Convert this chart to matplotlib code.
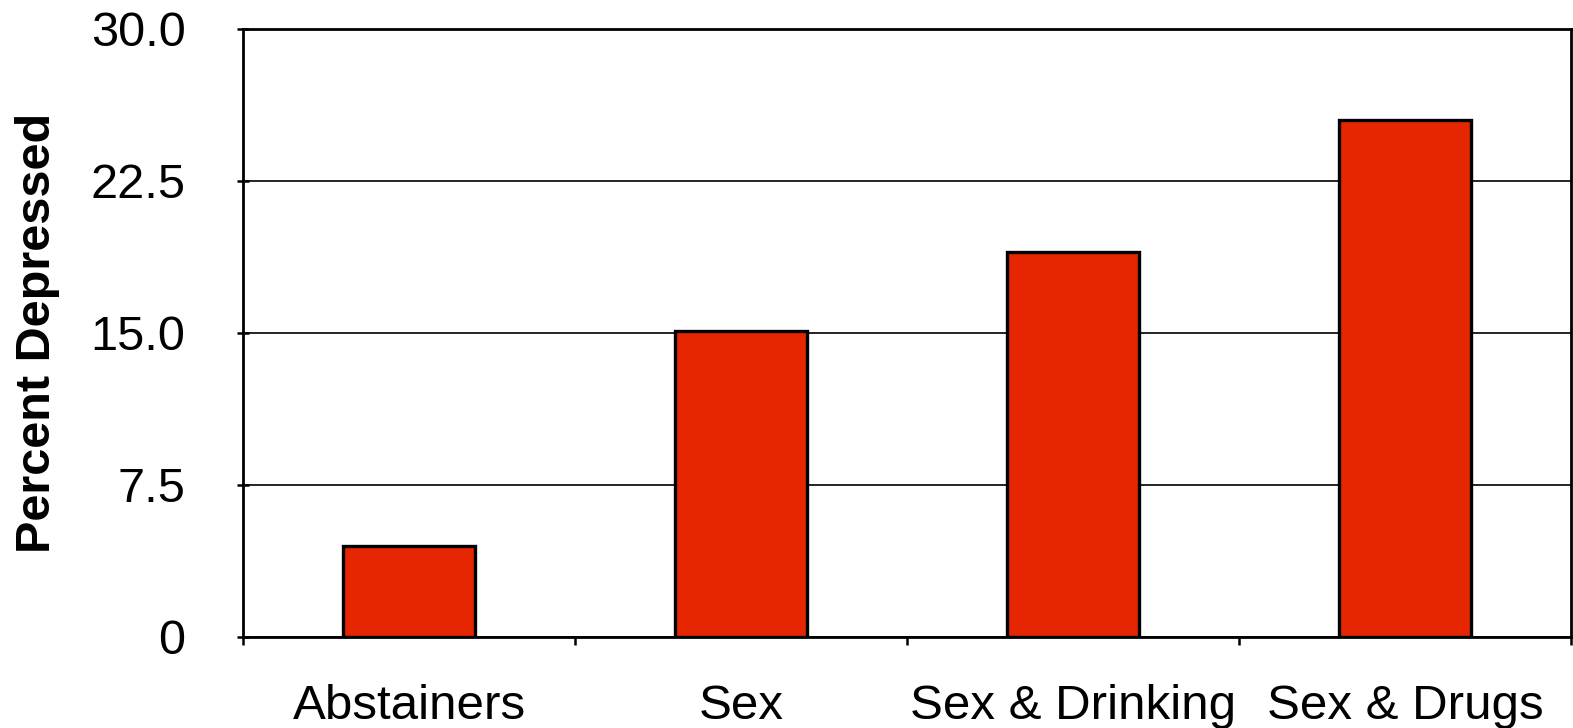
import numpy as np
import matplotlib.pyplot as plt
from matplotlib.ticker import FixedLocator

plt.rcParams['font.family'] = ['Liberation Sans', 'DejaVu Sans']

categories = ['Abstainers', 'Sex', 'Sex & Drinking', 'Sex & Drugs']
percent_depressed = [4.5, 15.1, 19.0, 25.5]
ytick_values = [0, 7.5, 15, 22.5, 30]
ytick_labels = ['0', '7.5', '15.0', '22.5', '30.0']

fig = plt.figure(figsize=(15.73, 7.28), dpi=100)
ax = fig.add_axes([243/1573, 1 - 637/728, (1571-243)/1573, (637-29)/728])

x = np.arange(len(categories))
ax.bar(x, percent_depressed, width=0.4, color='#E62600', edgecolor='black',
       linewidth=2.4, zorder=3)

ax.set_xlim(-0.5, len(categories) - 0.5)
ax.set_ylim(0, 30)
ax.set_yticks(ytick_values)
ax.set_yticklabels(ytick_labels)
ax.yaxis.grid(True, color='black', linewidth=1.2, zorder=0)

ax.set_xticks(x)
ax.set_xticklabels(categories)
ax.xaxis.set_minor_locator(FixedLocator(np.arange(-0.5, len(categories), 1.0)))
ax.tick_params(axis='x', which='major', length=0, pad=34, labelsize=35.5)
ax.tick_params(axis='x', which='minor', length=6, width=1.8, direction='out')
ax.tick_params(axis='y', length=9, width=1.8, direction='inout', pad=37, labelsize=35)

for s in ax.spines.values():
    s.set_linewidth(2)

ax.set_ylabel('Percent Depressed', fontsize=35, fontweight='bold')
ax.yaxis.set_label_coords(-0.138, 0.5)

plt.savefig('out.png', dpi=100)
